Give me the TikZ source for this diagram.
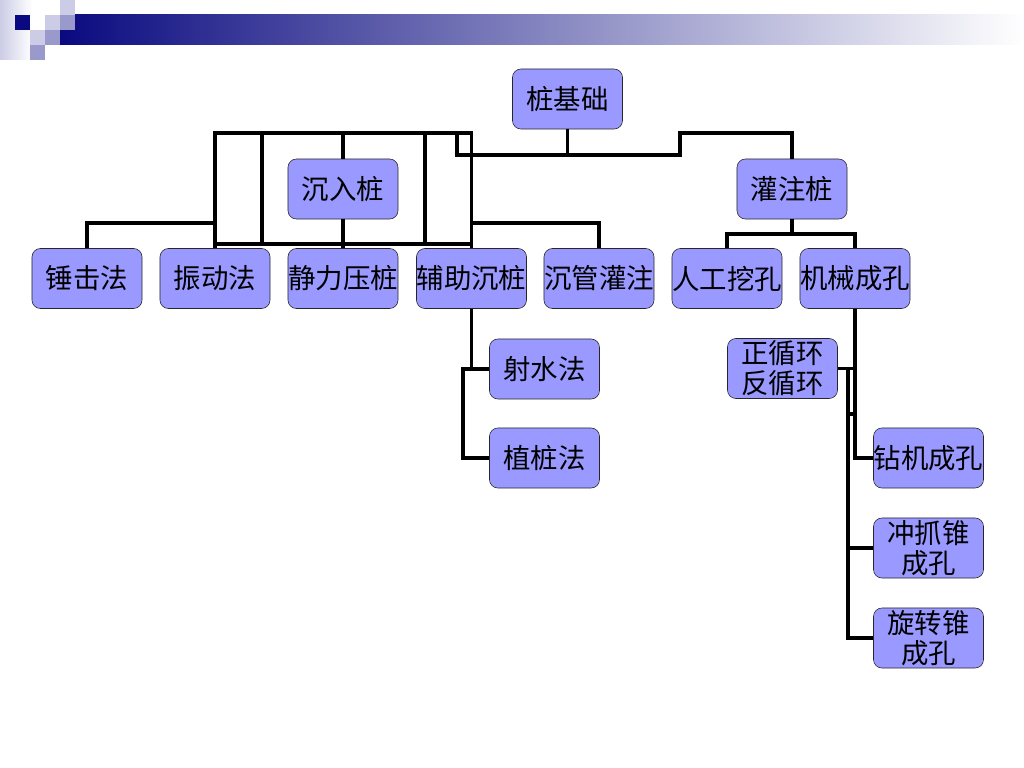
\documentclass[tikz,border=0pt]{standalone}
\usepackage{fontspec}
\setmainfont{Noto Sans CJK SC}
\usetikzlibrary{positioning, calc}
\definecolor{boxblue}{HTML}{9999FF}
\definecolor{navy}{HTML}{0A0A80}
\definecolor{palelav}{HTML}{CCCCE6}
\definecolor{midlav}{HTML}{9999CC}
\tikzset{
  box/.style={draw=black!85, rounded corners=6pt, fill=boxblue, minimum height=1.5cm,
    minimum width=2.75cm, inner sep=0pt, align=center, font=\fontsize{19.5}{21.5}\selectfont},
  link/.style={line width=2.8pt, line join=miter},
  tile/.style={fill=#1, draw=none},
}
\begin{document}
\begin{tikzpicture}[x=0.025cm, y=-0.025cm]
    \useasboundingbox (0,0) rectangle (1024,768);
    % title bar
    \shade[left color=palelav, right color=white] (0,0) rectangle (32,60);
    \shade[left color=navy, right color=white] (60,15) rectangle (1024,45);
    \fill[tile=navy] (15,15) rectangle (30,30);
    \fill[tile=palelav] (30,30) rectangle (45,45);
    \fill[tile=palelav] (45,15) rectangle (60,30);
    \fill[tile=palelav] (60,0) rectangle (75,15);
    \fill[tile=midlav] (45,30) rectangle (60,45);
    \fill[tile=midlav] (30,45) rectangle (45,60);
    \fill[tile=midlav] (60,15) rectangle (75,30);

    \node[box] (root) at (567.5,99) {桩基础};
    \node[box] (chenru) at (343,189) {沉入桩};
    \node[box] (guanzhu) at (792,189) {灌注桩};
    \node[box] (chuiji) at (87,278.5) {锤击法};
    \node[box] (zhendong) at (215,278.5) {振动法};
    \node[box] (jingli) at (343,278.5) {静力压桩};
    \node[box] (fuzhu) at (471.5,278.5) {辅助沉桩};
    \node[box] (chenguan) at (599,278.5) {沉管灌注};
    \node[box] (rengong) at (727,278.5) {人工挖孔};
    \node[box] (jixie) at (855,278.5) {机械成孔};
    \node[box] (sheshui) at (544.5,369) {射水法};
    \node[box] (zhizhuang) at (544.5,458) {植桩法};
    \node[box] (xunhuan) at (782.5,368.5) {正循环\\反循环};
    \node[box] (zuanji) at (928.5,458) {钻机成孔};
    \node[box] (chongzhua) at (928.5,548) {冲抓锥\\成孔};
    \node[box] (xuanzhuan) at (928.5,638) {旋转锥\\成孔};

    \draw[link] (root.south) -- (root.south |- 0,155) -- (680,155) -- (680,133) -| (guanzhu.north);
    \draw[link] (root.south |- 0,155) -- (457,155) -- (457,133);
    \draw[link] (zhendong.north) -- (zhendong.north |- 0,133) -- (fuzhu.north |- 0,133) -- (fuzhu.north);
    \draw[link] (zhendong.north |- 0,244) -- (fuzhu.north |- 0,244);
    \draw[link] (262,133) -- (262,244);
    \draw[link] (425,133) -- (425,244);
    \draw[link] (chenru.north) -- (chenru.north |- 0,133);
    \draw[link] (chenru.south) -- (jingli.north);
    \draw[link] (zhendong.north |- 0,223) -| (chuiji.north);
    \draw[link] (fuzhu.north |- 0,223) -| (chenguan.north);

    \draw[link] (guanzhu.south) -- (guanzhu.south |- 0,234);
    \draw[link] (rengong.north) |- (jixie.north |- 0,234) -- (jixie.north);

    \draw[link] (fuzhu.south) |- (sheshui.west);
    \draw[link] (sheshui.west) -- (463,369) |- (zhizhuang.west);

    \draw[link] (jixie.south) |- (zuanji.west);
    \draw[link] (xunhuan.east) -- (jixie.south |- xunhuan.east);
    \draw[link] (848,368.5) |- (xuanzhuan.west);
    \draw[link] (848,548) -- (chongzhua.west);
    \draw[link] (848,414) -- (855,414);
  \end{tikzpicture}
\end{document}
